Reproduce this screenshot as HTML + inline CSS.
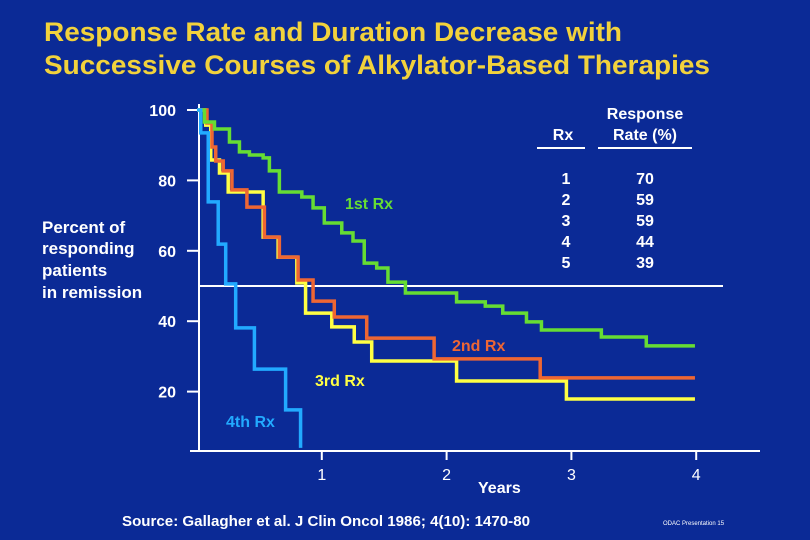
<!DOCTYPE html>
<html><head><meta charset="utf-8"><style>
html,body{margin:0;padding:0;background:#0b2a96;}
svg{display:block;font-family:"Liberation Sans",Arial,sans-serif;}
</style></head><body>
<svg id="c" width="810" height="540" viewBox="0 0 810 540">
<rect width="810" height="540" fill="#0b2a96"/>
<text x="44" y="41" fill="#f2d23c" font-size="27" font-weight="bold" textLength="578" lengthAdjust="spacingAndGlyphs">Response Rate and Duration Decrease with</text>
<text x="44" y="74" fill="#f2d23c" font-size="27" font-weight="bold" textLength="666" lengthAdjust="spacingAndGlyphs">Successive Courses of Alkylator-Based Therapies</text>
<g id="axes"></g>
<g id="series"></g>
<g fill="#fff" font-weight="bold" font-size="17">
<text x="42" y="233">Percent of</text>
<text x="42" y="254">responding</text>
<text x="42" y="276">patients</text>
<text x="42" y="298">in remission</text>
</g>
<text x="478" y="493" fill="#fff" font-size="16" font-weight="bold">Years</text>
<text x="345" y="209" fill="#66dd33" font-size="16" font-weight="bold">1st Rx</text>
<text x="452" y="351" fill="#ee6633" font-size="16" font-weight="bold">2nd Rx</text>
<text x="315" y="386" fill="#ffff44" font-size="16" font-weight="bold">3rd Rx</text>
<text x="226" y="427" fill="#22aaff" font-size="16" font-weight="bold">4th Rx</text>
<g fill="#fff" font-weight="bold" font-size="16" text-anchor="middle">
<text x="563" y="140">Rx</text>
<text x="645" y="119">Response</text>
<text x="645" y="140">Rate (%)</text>
<line x1="537" y1="148" x2="585" y2="148" stroke="#fff" stroke-width="2"/>
<line x1="598" y1="148" x2="692" y2="148" stroke="#fff" stroke-width="2"/>
<g id="legrows"></g>
</g>
<text x="122" y="526" fill="#fff" font-size="14.5" font-weight="bold" textLength="408" lengthAdjust="spacingAndGlyphs">Source:  Gallagher et al.  J Clin Oncol 1986; 4(10): 1470-80</text>
<text x="663" y="525" fill="#fff" font-size="6">ODAC Presentation  15</text>
</svg>
<script>
const yTicks=[100,80,60,40,20];
const xTicks=[1,2,3,4];
const rxNums=["1","2","3","4","5"];
const rates=["70","59","59","44","39"];
const medianVal=50;
const t1=[0.06,0.14,0.26,0.34,0.42,0.53,0.58,0.66,0.84,0.93,1.02,1.16,1.25,1.34,1.44,1.53,1.67,2.08,2.31,2.45,2.64,2.76,3.24,3.6];
const v1=[96.6,94.6,90.9,88.1,87.2,86.4,82.7,76.7,75.3,72.2,67.9,65.1,62.8,56.5,55.1,51.1,48.0,45.5,44.3,42.3,39.8,37.5,35.5,33.0];
const t2=[0.08,0.12,0.15,0.21,0.28,0.4,0.54,0.66,0.81,0.93,1.1,1.36,1.9,2.75];
const v2=[96.3,89.5,85.5,82.7,77.3,72.4,63.9,58.2,51.7,45.7,41.2,35.2,29.3,23.9];
const t3=[0.07,0.11,0.18,0.25,0.53,0.65,0.8,0.87,1.08,1.26,1.4,2.08,2.96];
const v3=[95.7,85.8,82.1,76.7,63.9,58.2,50.9,42.3,38.4,34.1,28.7,23.0,17.9];
const t4=[0.03,0.09,0.17,0.23,0.31,0.46,0.71,0.83];
const v4=[93.5,73.9,61.9,50.6,38.1,26.4,14.8,4.0];
const tEnd=3.99;
const X=t=>197+t*124.8;
const Y=v=>110+(100-v)*3.52;
const NS="http://www.w3.org/2000/svg";
function mk(tag,attrs,parent){const e=document.createElementNS(NS,tag);for(const k in attrs)e.setAttribute(k,attrs[k]);parent.appendChild(e);return e;}
const ax=document.getElementById('axes');
let e=mk('line',{x1:199,y1:104,x2:199,y2:451,stroke:'#fff','stroke-width':2},ax);


e=mk('line',{x1:190,y1:451,x2:760,y2:451,stroke:'#fff','stroke-width':2},ax);


e=mk('line',{x1:199,y1:Y(medianVal),x2:723,y2:Y(medianVal),stroke:'#fff','stroke-width':2},ax);


yTicks.forEach(v=>{
  const l=mk('line',{x1:187,y1:Y(v),x2:199,y2:Y(v),stroke:'#fff','stroke-width':2},ax);
  
  
  const t=mk('text',{x:176,y:Y(v)+6,fill:'#fff','font-size':16,'font-weight':'bold','text-anchor':'end'},ax);
  t.textContent=v;
  
  
});
xTicks.forEach(v=>{
  const l=mk('line',{x1:X(v),y1:451,x2:X(v),y2:460,stroke:'#fff','stroke-width':2},ax);
  
  
  const t=mk('text',{x:X(v),y:480,fill:'#fff','font-size':16,'text-anchor':'middle'},ax);
  t.textContent=v;
  
  
});
const sg=document.getElementById('series');
function step(ts,vs,color,name,end){
  let d='M'+X(0)+','+Y(100);
  for(let i=0;i<ts.length;i++){d+=' H'+X(ts[i])+' V'+Y(vs[i]);}
  if(end!=null)d+=' H'+X(end);
  const p=mk('path',{d:d,fill:'none',stroke:color,'stroke-width':3.5},sg);
  
  
}
step(t3,v3,'#ffff44','series-3rd-rx',tEnd);
step(t2,v2,'#ee6633','series-2nd-rx',tEnd);
step(t1,v1,'#66dd33','series-1st-rx',tEnd);
step(t4,v4,'#22aaff','series-4th-rx',null);
const lr=document.getElementById('legrows');
rxNums.forEach((r,i)=>{
  const a=mk('text',{x:566,y:184+i*21},lr);a.textContent=r;
  
  
  const b=mk('text',{x:645,y:184+i*21},lr);b.textContent=rates[i];
  
  
});
</script>
</body></html>
